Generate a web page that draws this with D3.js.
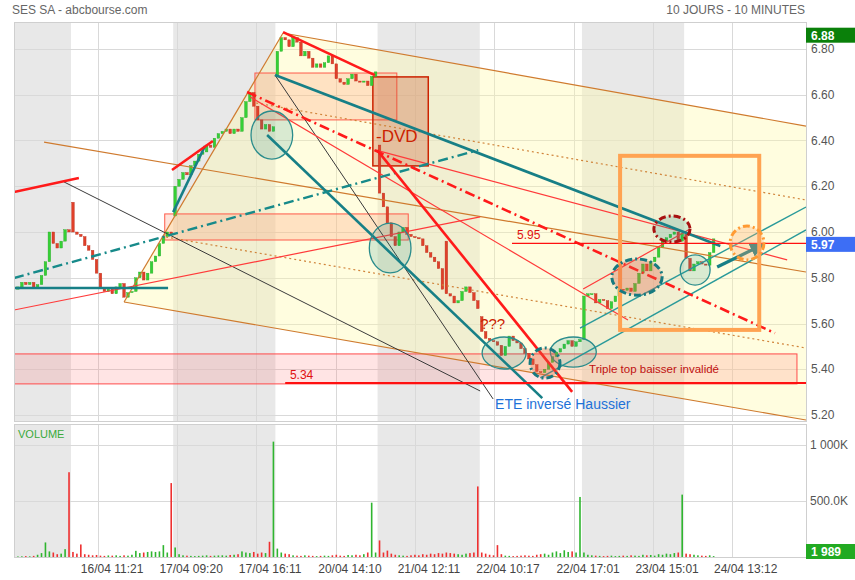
<!DOCTYPE html>
<html><head><meta charset="utf-8">
<script src="https://cdn.jsdelivr.net/npm/d3@7"></script>
<style>body{margin:0;background:#fff;} svg{display:block;font-family:"Liberation Sans",Arial,sans-serif;}</style>
</head><body><svg id="c" width="855" height="580"></svg>
<script>
// ---------------- DATA ----------------
const dayLabels = ["15/04","16/04","17/04","20/04","21/04","22/04","23/04","24/04"];
const dayBars = [14,26,26,26,26,26,26,8];
const closes = [
 5.76,5.78,5.77,5.78,5.755,5.77,5.81,5.87,6.00,5.95,5.93,5.96,6.01,6.00,
 6.00,5.99,5.98,5.94,5.92,5.88,5.82,5.755,5.74,5.75,5.73,5.76,5.775,5.715,5.735,5.74,5.80,5.825,5.79,5.82,5.87,5.895,5.95,5.98,6.00,5.99,
 6.20,6.23,6.26,6.25,6.29,6.31,6.34,6.35,6.38,6.37,6.41,6.43,6.44,6.45,6.43,6.45,6.44,6.50,6.57,6.61,6.55,6.49,6.45,6.47,6.44,6.46,
 6.79,6.85,6.84,6.81,6.85,6.83,6.77,6.79,6.76,6.72,6.735,6.72,6.74,6.77,6.735,6.67,6.655,6.645,6.67,6.69,6.66,6.655,6.66,6.64,6.68,6.70,
 6.17,6.11,6.04,5.98,5.94,6.00,6.02,5.99,5.98,5.975,5.97,5.94,5.91,5.89,5.87,5.84,5.75,5.73,5.72,5.69,5.70,5.74,5.76,5.735,5.70,5.665,
 5.565,5.535,5.525,5.52,5.505,5.46,5.50,5.545,5.525,5.515,5.49,5.47,5.445,5.42,5.39,5.385,5.40,5.43,5.455,5.475,5.49,5.51,5.525,5.50,5.52,5.53,
 5.72,5.73,5.73,5.69,5.705,5.70,5.665,5.695,5.72,5.75,5.745,5.755,5.74,5.775,5.82,5.86,5.83,5.87,5.89,5.935,5.96,5.975,5.99,6.00,5.96,5.995,
 5.885,5.83,5.86,5.87,5.86,5.855,5.91,5.97
];
const gapOpens = {0:5.75,14:6.13,40:6.07,66:6.68,92:6.38,109:5.96,118:5.63,144:5.53,170:5.99};
const volumes = [
 5,6,8,6,10,20,35,130,50,40,25,30,70,757,
 45,30,112,25,20,15,18,12,10,14,12,15,10,15,12,20,55,35,40,45,50,45,50,106,40,660,
 85,25,15,12,10,8,10,12,15,10,12,14,15,12,18,20,25,50,40,35,45,30,40,35,136,1030,
 75,40,30,25,15,12,10,15,12,10,8,10,12,10,15,20,12,10,18,15,20,15,25,40,485,40,
 148,40,57,30,20,15,12,10,15,20,15,25,20,30,25,35,30,40,35,30,25,20,30,35,40,630,
 40,30,20,15,106,25,12,10,8,10,12,15,12,10,20,25,30,20,40,50,35,60,45,50,40,536,
 40,20,15,12,10,8,10,12,8,10,12,10,15,12,10,20,15,18,12,25,20,30,25,35,40,557,
 30,25,20,15,12,10,15,8
];
const priceTicks = [5.2,5.4,5.6,5.8,6.0,6.2,6.4,6.6,6.8];
const volTicks = [500,1000];
const volTickLabels = ["500.0K","1 000K"];
const timeTickPos = [20.4,40.5,60.6,80.9,101.0,121.1,141.5,161.6,181.6];
const timeTickLabels = ["16/04 11:21","17/04 09:20","17/04 16:11","20/04 14:10","21/04 12:11","22/04 10:17","22/04 17:01","23/04 15:01","24/04 13:12"];
const highPrice = 6.88, lastPrice = 5.97, lastVolume = "1 989";
const title = "SES SA - abcbourse.com", period = "10 JOURS - 10 MINUTES";

// annotations, in [bar index, price]
const fanPoly = [[27.0,5.694],[67.45,6.870],[200.5,6.463],[200.5,5.178]];
const orangeSolid = [[[67.45,6.870],[200.5,6.463]],[[27.0,5.694],[67.45,6.870]],[[27.0,5.694],[200.5,5.178]],[[6.64,6.393],[200.5,5.825]]];
const orangeDotted = [[[60.6,6.564],[200.5,6.140]],[[37.7,5.978],[200.5,5.493]]];
const redThick = [[[-1,6.175],[15.5,6.236]],[[39.2,6.271],[49.6,6.398]],[[67.45,6.874],[90.8,6.686]],[[91.4,6.358],[141.0,5.301]]];
const redDashDot = [[[58.3,6.612],[192.6,5.558]]];
const redThin = [[[-1,5.659],[117.6,6.066]],[[59.1,6.590],[155.2,5.615]],[[91.1,6.358],[195.7,5.878]],[[143.8,5.751],[171.0,6.013]]];
const tealThick = [[[-1,5.755],[38.2,5.755]],[[39.5,6.087],[47.6,6.376]],[[65.4,6.686],[178.7,5.939]],[[63.4,6.424],[133.4,5.274]]];
const tealDashDot = [[[-1,5.799],[117.1,6.358]]];
const tealThin = [[[143.0,5.580],[200.5,6.109]],[[132.9,5.362],[200.5,6.009]]];
const tealArrow = [[177.9,5.847],[189.3,5.943]];
const darkLines = [[[11.7,6.219],[117.6,5.305]],[[65.4,6.686],[120.9,5.270]]];
const zoneRects = [[37.35,6.079,99.3,5.965],[60.3,6.695,96.4,6.490]];
const dvdRect = [90.3,6.678,104.4,6.289];
const tripleRect = [-1,5.467,198.2,5.336];
const targetBox = [153.2,6.333,188.6,5.572];
const tealEllipses = [[64.6,6.424,5.3,0.105],[94.7,5.930,5.3,0.109],[123.7,5.471,5.6,0.070],[141.3,5.475,5.85,0.066],[172.3,5.834,3.8,0.066]];
const redDashedEllipses = [[134.1,5.427,3.8,0.066],[157.5,5.803,6.4,0.079]];
const darkRedEllipse = [166.4,6.013,4.6,0.057];
const orangeEllipse = [185.5,5.952,4.3,0.074];
const levelValues = [5.95,5.34];
const levelStarts = [125.7,68];
const levelLabelAt = [127.0,69.2];
const noteTexts = ["-DVD","???","ETE inversé Haussier","Triple top baisser invalidé"];
const noteAt = [[91.1,6.393],[117.6,5.576],[121.4,5.226],[145.3,5.384]];

// ---------------- DRAW ----------------
const svg = d3.select("#c");
const L=14, R=806, PT=22, PB=421, VT=424, VB=557;
const x = d3.scaleLinear().domain([-1,200.5]).range([L,R]);
const y = d3.scaleLinear().domain([5.2,6.8]).range([415,49]);
const yv = d3.scaleLinear().domain([0,1000]).range([VB,445]);

const defs = svg.append("defs");
defs.append("clipPath").attr("id","cp").append("rect").attr("x",L).attr("y",PT).attr("width",R-L).attr("height",PB-PT);
defs.append("marker").attr("id","arr").attr("viewBox","0 0 10 10").attr("refX",8).attr("refY",5)
  .attr("markerWidth",4.5).attr("markerHeight",4.5).attr("orient","auto")
  .append("path").attr("d","M0,0L10,5L0,10z").attr("fill","#177f86");

// day shading
let st=0;
const days = dayBars.map((n,k)=>{const d={k,s:st,e:st+n}; st+=n; return d;});
days.forEach(d=>{
  if(d.k%2===0){
    const x0 = d.k===0 ? L : x(d.s-0.5);
    const x1 = d.k===days.length-1 ? R : x(d.e-0.5);
    svg.append("rect").attr("x",x0).attr("y",PT).attr("width",x1-x0).attr("height",PB-PT).attr("fill","#e8e8e8");
    svg.append("rect").attr("x",x0).attr("y",VT).attr("width",x1-x0).attr("height",VB-VT).attr("fill","#e8e8e8");
  }
});
// grid
const grid = svg.append("g").attr("stroke","#d9d9d9").attr("stroke-width",1);
priceTicks.forEach(v=>grid.append("line").attr("x1",L).attr("x2",R).attr("y1",Math.round(y(v))+0.5).attr("y2",Math.round(y(v))+0.5));
volTicks.forEach(v=>grid.append("line").attr("x1",L).attr("x2",R).attr("y1",Math.round(yv(v))+0.5).attr("y2",Math.round(yv(v))+0.5));
timeTickPos.forEach(t=>{
  const xx=Math.round(x(t))+0.5;
  grid.append("line").attr("x1",xx).attr("x2",xx).attr("y1",PT).attr("y2",PB);
  grid.append("line").attr("x1",xx).attr("x2",xx).attr("y1",VT).attr("y2",VB);
});

const P = svg.append("g").attr("clip-path","url(#cp)");
const px = p=>[x(p[0]),y(p[1])];
// fan fill
P.append("path").attr("d",d3.line()(fanPoly.map(px))+"Z").attr("fill","rgba(255,250,170,0.38)");
// zone rects
function drect(g,r,fill,stroke,w){
  g.append("rect").attr("x",x(r[0])).attr("y",y(r[1])).attr("width",x(r[2])-x(r[0])).attr("height",y(r[3])-y(r[1]))
   .attr("fill",fill).attr("stroke",stroke).attr("stroke-width",w);
}
zoneRects.forEach(r=>drect(P,r,"rgba(255,130,90,0.22)","#ff5a4a",1));
drect(P,tripleRect,"rgba(255,120,120,0.2)","#ff4a4a",1);
drect(P,dvdRect,"rgba(200,80,40,0.3)","#cc2200",1.5);

// candles
const opens = closes.map((c,i)=> gapOpens[i]!==undefined ? gapOpens[i] : closes[i-1]);
const cg = P.append("g");
closes.forEach((c,i)=>{
  const o=opens[i], up=c>=o;
  const y0=y(Math.max(o,c)), y1=y(Math.min(o,c));
  cg.append("rect").attr("x",x(i)-1.3).attr("y",y0).attr("width",2.6).attr("height",Math.max(1,y1-y0))
    .attr("fill",up?"#35d035":"#e0402a").attr("stroke",up?"#28a828":"#b8301e").attr("stroke-width",0.4);
});

// lines
function seg(g,s,stroke,w,dash){
  const l=g.append("line").attr("x1",x(s[0][0])).attr("y1",y(s[0][1])).attr("x2",x(s[1][0])).attr("y2",y(s[1][1]))
    .attr("stroke",stroke).attr("stroke-width",w).attr("stroke-linecap","butt");
  if(dash) l.attr("stroke-dasharray",dash);
  return l;
}
orangeSolid.forEach(s=>seg(P,s,"#cf7a2e",1.2));
orangeDotted.forEach(s=>seg(P,s,"#d0843a",1.2,"2,3"));
darkLines.forEach(s=>seg(P,s,"#3a3a3a",1));
redThin.forEach(s=>seg(P,s,"#ff3a3a",1.2));
tealThin.forEach(s=>seg(P,s,"#2a9a9a",1.4));
tealThick.forEach(s=>seg(P,s,"#177f86",2.6));
tealDashDot.forEach(s=>seg(P,s,"#178a8a",2.4,"10,4,2,4"));
redThick.forEach(s=>seg(P,s,"#ff1a1a",2.6));
redDashDot.forEach(s=>seg(P,s,"#ff1a1a",2.6,"10,4,2,4"));
seg(P,tealArrow,"#177f86",3.2).attr("marker-end","url(#arr)");

// levels
levelValues.forEach((v,i)=>{
  P.append("line").attr("x1",x(levelStarts[i])).attr("x2",R).attr("y1",y(v)).attr("y2",y(v))
   .attr("stroke","#ff1010").attr("stroke-width",i===1?2:1.2);
  P.append("text").attr("x",x(levelLabelAt[i])).attr("y",y(v)-4).attr("fill","#e01010").attr("font-size",12).text(v.toFixed(2));
});

// target box
drect(P,targetBox,"none","#ffa352",4);

// ellipses
function ell(e,fill,stroke,w,dash){
  const el=P.append("ellipse").attr("cx",x(e[0])).attr("cy",y(e[1])).attr("rx",x(e[2])-x(0)).attr("ry",y(0)-y(e[3]))
   .attr("fill",fill).attr("stroke",stroke).attr("stroke-width",w);
  if(dash) el.attr("stroke-dasharray",dash);
}
tealEllipses.forEach(e=>ell(e,"rgba(30,140,140,0.17)","#2a8c8c",1.3));
redDashedEllipses.forEach(e=>ell(e,"rgba(225,95,70,0.33)","#177a80",3,"7,3,2,3"));
ell(darkRedEllipse,"rgba(30,140,140,0.2)","#a81010",3,"7,3,2,3");
ell(orangeEllipse,"rgba(255,170,110,0.3)","#ff9a33",3,"7,3,2,3");

// notes
const noteStyle=[{c:"#cc2200",s:17},{c:"#cc2200",s:15},{c:"#1d72d8",s:14},{c:"#c01010",s:11.5}];
noteTexts.forEach((t,i)=>{
  P.append("text").attr("x",x(noteAt[i][0])).attr("y",y(noteAt[i][1])).attr("fill",noteStyle[i].c)
   .attr("font-size",noteStyle[i].s).text(t);
});

// volume
const VG = svg.append("g");
volumes.forEach((v,i)=>{
  const up = closes[i]>=opens[i];
  VG.append("rect").attr("x",x(i)-0.8).attr("y",yv(v)).attr("width",1.6).attr("height",VB-yv(v))
    .attr("fill",up?"#2fb52f":"#ee3030");
});

// frames
svg.append("rect").attr("x",L+0.5).attr("y",PT+0.5).attr("width",R-L).attr("height",PB-PT).attr("fill","none").attr("stroke","#cfcfcf");
svg.append("rect").attr("x",L+0.5).attr("y",VT+0.5).attr("width",R-L).attr("height",VB-VT).attr("fill","none").attr("stroke","#cfcfcf");

// axis labels
const ax = svg.append("g").attr("font-size",12).attr("fill","#555");
priceTicks.forEach(v=>ax.append("text").attr("x",811).attr("y",y(v)+4).text(v.toFixed(2)));
volTicks.forEach((v,i)=>ax.append("text").attr("x",810).attr("y",yv(v)+4).text(volTickLabels[i]));
timeTickPos.forEach((t,i)=>ax.append("text").attr("x",x(t)+14).attr("y",573).attr("text-anchor","middle").attr("fill","#444").text(timeTickLabels[i]));

// value boxes
function vbox(yy,fill,label){
  svg.append("rect").attr("x",R).attr("y",yy).attr("width",855-R).attr("height",15).attr("fill",fill);
  svg.append("text").attr("x",811).attr("y",yy+12).attr("fill","#fff").attr("font-size",12).attr("font-weight","bold").text(label);
}
vbox(y(highPrice)-3,"#0a800a",highPrice.toFixed(2));
vbox(y(lastPrice)-2,"#3d6ef5",lastPrice.toFixed(2));
vbox(VB-13,"#22aa22",lastVolume);

// titles
svg.append("text").attr("x",12).attr("y",14).attr("font-size",12).attr("fill","#666").text(title);
svg.append("text").attr("x",805).attr("y",14).attr("font-size",12).attr("fill","#666").attr("text-anchor","end").text(period);
svg.append("text").attr("x",18).attr("y",438).attr("font-size",11).attr("fill","#3aaa3a").text("VOLUME");
</script></body></html>
